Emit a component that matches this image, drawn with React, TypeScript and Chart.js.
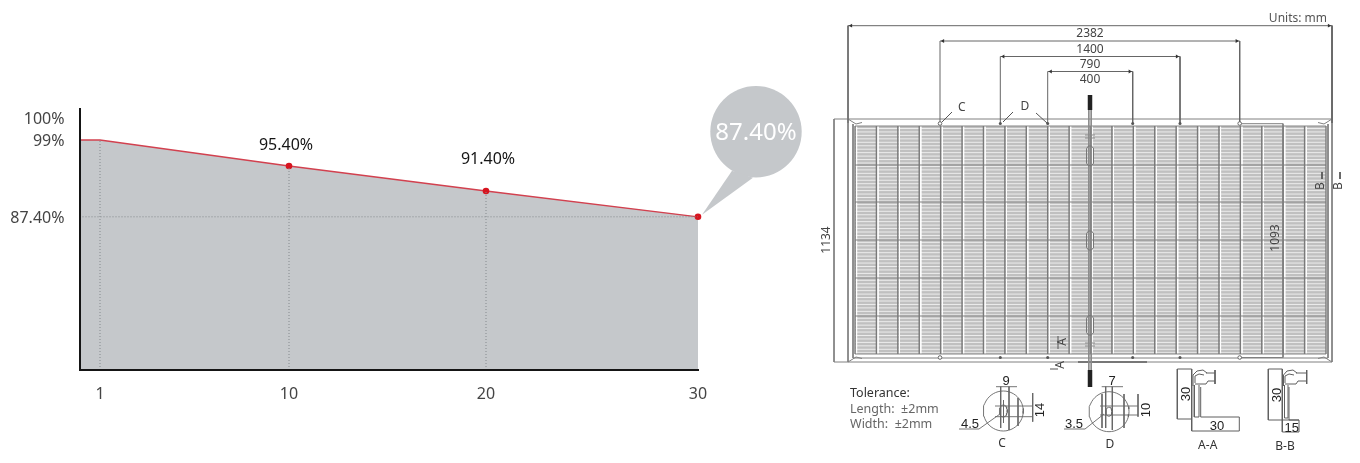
import React, { useEffect, useRef } from "react";
import { Chart, registerables, LinearScale } from "chart.js";

// ---------- degradation chart data ----------
const years = [0, 1, 10, 20, 30];
const retention = [99, 99, 95.4, 91.4, 87.4];
const xTickYears = [1, 10, 20, 30];
const yTickValues = [100, 99, 87.4];
const yTickLabels = ["100%", "99%", "87.40%"];
const markedYears = [10, 20, 30];
const dropYears = [1, 10, 20];
const dropValues = [99, 95.4, 91.4];
const guideValue = 87.4;

// The source infographic's axes are not to scale, so each axis is a piecewise scale.
const xAxisStops = [[0, 79.5], [1, 100], [10, 289], [20, 486], [30, 698]];
const yAxisStops = [[0, 370], [87.4, 216.8], [91.4, 191], [95.4, 166], [99, 140], [100, 118], [100.5, 109]];

// ---------- module drawing labels ----------
const dimensionLabels = ["2382", "1400", "790", "400"];
const dimensionSpans = [[848, 1332], [940, 1239.7], [1000.3, 1180], [1047.7, 1132.7]];
const dimensionRails = [25.7, 41, 56.5, 71.5];
const toleranceLines = ["Tolerance:", "Length:  \u00b12mm", "Width:  \u00b12mm"];
const panelColumns = 22;
const panelRows = [126, 165, 202, 240, 278, 316, 354];
const holesOpen = [940, 1239.7];
const holesSolid = [1000.3, 1047.7, 1132.7, 1180];
const boxRanges = [[146, 165.7], [231, 250], [315.7, 335]];

class PiecewiseScale extends LinearScale {
  static id = "piecewise";
  static defaults = LinearScale.defaults;
  getPixelForValue(v: number) {
    const stops = this.axis === "x" ? xAxisStops : yAxisStops;
    if (v === null || v === undefined || isNaN(v)) return NaN;
    for (let i = 1; i < stops.length; i++) {
      if (v <= stops[i][0]) {
        const [a, pa] = stops[i - 1];
        const [b, pb] = stops[i];
        return pa + ((v - a) / (b - a)) * (pb - pa);
      }
    }
    return stops[stops.length - 1][1];
  }
}
Chart.register(...registerables, PiecewiseScale);

const SANS = '"Noto Sans", sans-serif';
const FILL = "#c5c8cb";

const calloutPlugin = {
  id: "callouts",
  afterDatasetsDraw(chart: any) {
    const { ctx } = chart;
    const x = chart.scales.x;
    const y = chart.scales.y;
    // value labels
    ctx.save();
    ctx.font = `16px ${SANS}`;
    ctx.fillStyle = "#151515";
    ctx.textAlign = "center";
    ctx.textBaseline = "middle";
    const offsets: Record<number, number[]> = { 10: [-3, -21], 20: [2, -32] };
    markedYears.slice(0, 2).forEach((yr) => {
      const v = retention[years.indexOf(yr)];
      ctx.fillText(`${v.toFixed(2)}%`, x.getPixelForValue(yr) + offsets[yr][0], y.getPixelForValue(v) + offsets[yr][1]);
    });
    // bubble on the last point
    const last = retention[retention.length - 1];
    const px = x.getPixelForValue(30);
    const py = y.getPixelForValue(last);
    const cx = px + 58;
    const cy = py - 85;
    ctx.fillStyle = FILL;
    ctx.beginPath();
    ctx.arc(cx, cy, 45.7, 0, Math.PI * 2);
    ctx.fill();
    ctx.beginPath();
    ctx.moveTo(px + 4, py - 2);
    ctx.lineTo(px + 34, py - 46);
    ctx.lineTo(px + 55, py - 39);
    ctx.closePath();
    ctx.fill();
    ctx.fillStyle = "#ffffff";
    ctx.font = `24px ${SANS}`;
    ctx.fillText(`${last.toFixed(2)}%`, cx, cy + 1);
    ctx.restore();
  },
};

// ---------- helpers for the drawing ----------
type Poly = number[];
const toPath = (polys: Poly[]) => {
  const out: { x: number; y: number }[] = [];
  polys.forEach((p) => {
    for (let i = 0; i < p.length; i += 2) out.push({ x: p[i], y: p[i + 1] });
    out.push({ x: NaN, y: NaN });
  });
  return out;
};
const ring = (cx: number, cy: number, rx: number, ry: number): Poly => {
  const p: Poly = [];
  for (let i = 0; i <= 48; i++) {
    const t = (i / 48) * Math.PI * 2;
    p.push(cx + rx * Math.cos(t), cy + ry * Math.sin(t));
  }
  return p;
};
const rect = (l: number, t: number, r: number, b: number): Poly => [l, t, r, t, r, b, l, b, l, t];

const layer = (polys: Poly[], color: string, width: number, extra: any = {}) => ({
  type: "scatter",
  showLine: true,
  data: toPath(polys),
  borderColor: color,
  backgroundColor: color,
  borderWidth: width,
  pointRadius: 0,
  tension: 0,
  fill: false,
  ...extra,
});
const markers = (pts: number[][], color: string, radius: number, style: string, rotation = 0, hollow = false) => ({
  type: "scatter",
  data: pts.map(([x, y]) => ({ x, y })),
  pointStyle: style,
  pointRotation: rotation,
  pointRadius: radius,
  pointBorderWidth: hollow ? 1 : 0,
  pointBorderColor: color,
  pointBackgroundColor: hollow ? "#ffffff" : color,
  showLine: false,
});

const buildSheet = () => {
  const left = 855;
  const right = 1326;
  const top = panelRows[0];
  const bottom = panelRows[panelRows.length - 1];
  const colStep = (right - left) / panelColumns;
  const stripes: Poly[] = [];
  for (let y = top + 2.5; y < bottom; y += 3.45) stripes.push([left, y, right, y]);
  const dividers: Poly[] = [];
  const dividerGlow: Poly[] = [];
  for (let c = 0; c <= panelColumns; c++) {
    const x = left + c * colStep;
    dividers.push([x, top, x, bottom]);
    dividerGlow.push([x + 1.6, top, x + 1.6, bottom]);
  }
  const rows = panelRows.map((y) => [left, y, right, y]);

  const frame: Poly[] = [
    [834, 119, 1332, 119],
    [834, 362, 1078, 362],
    [1147, 362, 1332, 362],
    [848, 25.7, 848, 362],
    [1332, 25.7, 1332, 362],
    [853, 124, 853, 358],
    [1328, 124, 1328, 358],
    [853, 358, 1328, 358],
    [834, 119, 834, 362],
    [1240, 123.7, 1283, 123.7, 1283, 357.5, 1240, 357.5],
    [848, 119, 856, 124, 862, 122.5],
    [1332, 119, 1324, 124, 1318, 122.5],
    [848, 362, 856, 357, 862, 358.5],
    [1332, 362, 1324, 357, 1318, 358.5],
  ];
  const rails: Poly[] = dimensionSpans.map(([a, b], i) => [a, 123, a, dimensionRails[i], b, dimensionRails[i], b, 123]);
  const leaders: Poly[] = [
    [952, 112, 942, 122],
    [1013, 112, 1003, 122],
    [1036, 113, 1047, 123],
    [1050, 369, 1058, 369],
    [1058, 349, 1058, 336],
    [1322, 172, 1322, 179],
    [1340, 172, 1340, 179],
  ];
  const cable: Poly[] = [
    [1088.8, 110, 1088.8, 370],
    [1091.2, 110, 1091.2, 370],
    [1085, 135, 1095, 135],
    [1085, 138, 1095, 138],
    [1085, 343, 1095, 343],
    [1085, 346, 1095, 346],
  ];
  const boxes: Poly[] = boxRanges.map(([a, b]) => [1086.5, a + 2.5, 1088.5, a, 1091.5, a, 1093.5, a + 2.5, 1093.5, b - 2.5, 1091.5, b, 1088.5, b, 1086.5, b - 2.5, 1086.5, a + 2.5]);
  const plugs: Poly[] = [
    [1090, 95, 1090, 110],
    [1090, 370, 1090, 387],
  ];

  const detailC: Poly[] = [
    ring(1003.3, 411, 20, 20),
    ring(1003.3, 411, 4, 6),
    [996, 386.7, 1017, 386.7],
    [1000.7, 386.7, 1000.7, 428],
    [1009, 386.7, 1009, 430],
    [1003.5, 400, 1003.5, 423],
    [1018, 398, 1018, 426],
    [995, 406, 1033, 406],
    [995, 416.7, 1033, 416.7],
    [1032.7, 393, 1032.7, 421.7],
    [959, 429, 979, 429, 1000, 414],
  ];
  const detailD: Poly[] = [
    ring(1109, 411.7, 20, 20),
    ring(1109, 411.7, 3, 4.5),
    [1101.7, 386.7, 1123, 386.7],
    [1105.7, 386.7, 1105.7, 428],
    [1112.3, 386.7, 1112.3, 430],
    [1102, 394, 1102, 428],
    [1124, 394, 1124, 428],
    [1100, 406, 1138, 406],
    [1100, 415, 1138, 415],
    [1138, 394, 1138, 416.7],
    [1064, 429, 1085, 429, 1104, 414],
  ];
  const sectionA: Poly[] = [
    [1191.7, 369, 1177.3, 369, 1177.3, 419, 1191.7, 419],
    [1191.7, 369, 1191.7, 431, 1239.3, 431, 1239.3, 417, 1200.7, 417, 1200.7, 387],
    [1194.3, 385, 1194.3, 417, 1199, 417, 1199, 385],
    [1193, 386, 1193, 375, 1197, 371, 1203, 370, 1207, 373],
    [1195, 383, 1195, 376, 1199, 374, 1204, 375],
    [1195, 384, 1206, 384, 1208, 381, 1215, 381],
    [1206, 373, 1215, 373],
    [1215, 370, 1215, 384],
  ];
  const sectionB: Poly[] = [
    [1282.3, 369, 1268.3, 369, 1268.3, 420, 1282.3, 420],
    [1282.3, 369, 1282.3, 432, 1299, 432, 1299, 420, 1289, 420, 1289, 387],
    [1284.5, 385, 1284.5, 418, 1288, 418, 1288, 385],
    [1283.5, 386, 1283.5, 375, 1287, 371, 1293, 370, 1297, 373],
    [1285, 383, 1285, 376, 1289, 374, 1294, 375],
    [1285, 384, 1296, 384, 1298, 381, 1306.7, 381],
    [1296, 373, 1306.7, 373],
    [1306.7, 370, 1306.7, 384],
    [1282.3, 420, 1299, 420],
  ];

  const arrowsL = dimensionSpans.map(([a], i) => [a + 3, dimensionRails[i]]);
  const arrowsR = dimensionSpans.map(([, b], i) => [b - 3, dimensionRails[i]]);
  const holeRows = [123.5, 357.5];
  const open = holeRows.flatMap((y) => holesOpen.map((x) => [x, y]));
  const solid = holeRows.flatMap((y) => holesSolid.map((x) => [x, y]));

  const list: any[] = [
    layer([rect(left, top, right, bottom)], "#c0c0c0", 0, { fill: "shape", data: toPath([rect(left, top, right, bottom)]).slice(0, 5) }),
    layer(stripes, "rgba(255,255,255,0.7)", 1),
    layer(dividerGlow, "rgba(255,255,255,0.95)", 1),
    layer(rows, "#858585", 1.2),
    layer(dividers, "#7a7a7a", 1.4),
    layer(frame, "#808080", 1),
    layer([[1078, 362, 1147, 362]], "#4a4a4a", 1.4),
    layer(rails, "#666666", 1),
    layer(leaders, "#555555", 1),
    layer(cable, "#8a8a8a", 1),
    layer(boxes, "#777777", 1),
    layer(plugs, "#222222", 4.5),
    layer(detailC, "#666666", 0.9),
    layer(detailD, "#666666", 0.9),
    layer(sectionA, "#5f5f5f", 1),
    layer(sectionB, "#5f5f5f", 1),
    markers(arrowsL, "#333333", 2.2, "triangle", -90),
    markers(arrowsR, "#333333", 2.2, "triangle", 90),
    markers(open, "#666666", 1.8, "circle", 0, true),
    markers(solid, "#555555", 1.5, "circle"),
  ];
  return list.map((d, i) => ({ ...d, order: list.length - i }));
};

const TECH = '"Liberation Sans", sans-serif';
const sheetText = (label: string, x: number, y: number, size = 12, rot = 0, color = "#444444", font = SANS, align = "center") => ({
  label, x, y, size, rot, color, font, align,
});
const sheetLabels = [
  sheetText("Units: mm", 1327, 18, 12, 0, "#555555", SANS, "right"),
  ...dimensionLabels.map((d, i) => sheetText(d, 1090, [33, 49, 64, 79][i])),
  sheetText("C", 961.7, 107),
  sheetText("D", 1025, 106),
  sheetText("1134", 826, 240, 12, -90),
  sheetText("1093", 1275, 238, 12, -90),
  sheetText("A", 1061.7, 342, 12, -90),
  sheetText("A", 1060, 365, 12, -90),
  sheetText("B", 1320, 186, 12, -90),
  sheetText("B", 1338, 186, 12, -90),
  sheetText(toleranceLines[0], 850, 392, 12.5, 0, "#333333", SANS, "left"),
  sheetText(toleranceLines[1], 850, 408, 12.5, 0, "#666666", SANS, "left"),
  sheetText(toleranceLines[2], 850, 423, 12.5, 0, "#666666", SANS, "left"),
  sheetText("9", 1006, 380, 13, 0, "#222222", TECH),
  sheetText("14", 1039, 410, 13, -90, "#222222", TECH),
  sheetText("4.5", 970, 423, 13, 0, "#222222", TECH),
  sheetText("C", 1002, 443, 12, 0, "#333333"),
  sheetText("7", 1112, 380, 13, 0, "#222222", TECH),
  sheetText("10", 1145, 410, 13, -90, "#222222", TECH),
  sheetText("3.5", 1074, 423, 13, 0, "#222222", TECH),
  sheetText("D", 1110, 444, 12, 0, "#333333"),
  sheetText("30", 1185.7, 394, 13, -90, "#222222", TECH),
  sheetText("30", 1217, 425.5, 13, 0, "#222222", TECH),
  sheetText("A-A", 1207.7, 445, 12, 0, "#333333"),
  sheetText("30", 1276, 395, 13, -90, "#222222", TECH),
  sheetText("15", 1291.7, 427, 13, 0, "#222222", TECH),
  sheetText("B-B", 1285, 446, 12, 0, "#333333"),
];

const sheetTextPlugin = {
  id: "sheetText",
  afterDatasetsDraw(chart: any) {
    const { ctx } = chart;
    const { x, y } = chart.scales;
    sheetLabels.forEach((t) => {
      ctx.save();
      ctx.translate(x.getPixelForValue(t.x), y.getPixelForValue(t.y));
      ctx.rotate((t.rot * Math.PI) / 180);
      ctx.font = `${t.size}px ${t.font}`;
      ctx.fillStyle = t.color;
      ctx.textAlign = t.align;
      ctx.textBaseline = "middle";
      ctx.fillText(t.label, 0, 1);
      ctx.restore();
    });
  },
};

export default function App() {
  const leftRef = useRef<HTMLCanvasElement>(null);
  const rightRef = useRef<HTMLCanvasElement>(null);

  useEffect(() => {
    document.body.style.margin = "0";
    const lineData = years.map((x, i) => ({ x, y: retention[i] }));
    const chartA = new Chart(leftRef.current!, {
      type: "line",
      data: {
        datasets: [
          {
            data: lineData,
            borderColor: "#d2414f",
            borderWidth: 1.3,
            backgroundColor: FILL,
            fill: "origin",
            tension: 0,
            clip: false,
            pointRadius: years.map((yr) => (markedYears.includes(yr) ? 3.3 : 0)),
            pointBackgroundColor: "#d7141f",
            pointBorderWidth: 0,
            order: 2,
          },
          ...dropYears.map((yr, i) => ({
            data: [{ x: yr, y: 0 }, { x: yr, y: dropValues[i] }],
            borderColor: "#84898d",
            borderWidth: 1,
            borderDash: [1, 2],
            pointRadius: 0,
            fill: false,
            order: 1,
          })),
          {
            data: [{ x: 0, y: guideValue }, { x: 30, y: guideValue }],
            borderColor: "#84898d",
            borderWidth: 1,
            borderDash: [1, 2],
            pointRadius: 0,
            fill: false,
            order: 1,
          },
        ],
      },
      options: {
        animation: false,
        responsive: false,
        events: [],
        layout: { autoPadding: false, padding: { left: 0, right: 122, top: 109, bottom: 0 } },
        plugins: { legend: { display: false }, tooltip: { enabled: false } },
        scales: {
          x: {
            type: "piecewise",
            min: 0,
            max: 30,
            grid: { display: false, drawTicks: false },
            border: { display: true, color: "#151515", width: 2, z: 2 },
            afterBuildTicks: (s: any) => {
              s.ticks = xTickYears.map((value) => ({ value }));
            },
            afterFit: (s: any) => {
              s.height = 93;
            },
            ticks: { autoSkip: false, maxRotation: 0, padding: 15, color: "#444444", font: { family: "Noto Sans", size: 16 }, callback: (v: any) => String(v) },
          },
          y: {
            type: "piecewise",
            min: 0,
            max: 100.5,
            grid: { display: false, drawTicks: false },
            border: { display: true, color: "#151515", width: 2, z: 2 },
            afterBuildTicks: (s: any) => {
              s.ticks = yTickValues.map((value) => ({ value }));
            },
            afterFit: (s: any) => {
              s.width = 79.5;
            },
            ticks: {
              autoSkip: false,
              padding: 15,
              labelOffset: 1.5,
              color: "#444444",
              font: { family: "Noto Sans", size: 16 },
              callback: (v: any) => yTickLabels[yTickValues.indexOf(v)],
            },
          },
        },
      } as any,
      plugins: [calloutPlugin],
    } as any);

    const chartB = new Chart(rightRef.current!, {
      type: "scatter",
      data: { datasets: buildSheet() },
      options: {
        animation: false,
        responsive: false,
        events: [],
        layout: { autoPadding: false, padding: 0 },
        plugins: { legend: { display: false }, tooltip: { enabled: false } },
        scales: {
          x: { type: "linear", min: 820, max: 1360, display: false },
          y: { type: "linear", min: 0, max: 463, reverse: true, display: false },
        },
      } as any,
      plugins: [sheetTextPlugin],
    } as any);

    return () => {
      chartA.destroy();
      chartB.destroy();
    };
  }, []);

  return (
    <div style={{ position: "absolute", left: 0, top: 0, width: 1360, height: 463, overflow: "hidden", background: "#fff" }}>
      <canvas ref={leftRef} width={820} height={463} style={{ position: "absolute", left: 0, top: 0 }} />
      <canvas ref={rightRef} width={540} height={463} style={{ position: "absolute", left: 820, top: 0 }} />
    </div>
  );
}
